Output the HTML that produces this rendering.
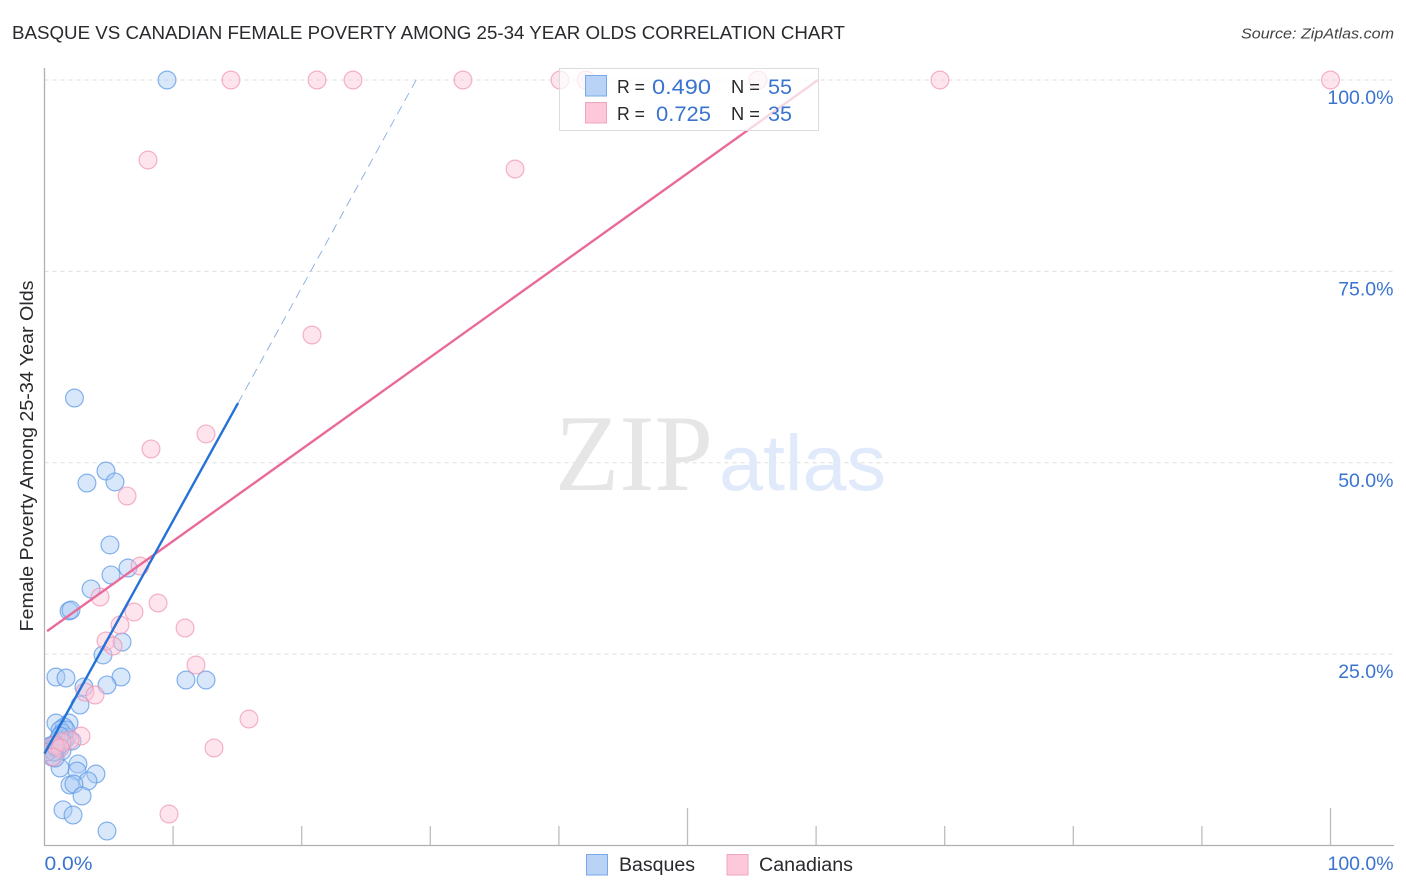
<!DOCTYPE html>
<html lang="en">
<head>
<meta charset="utf-8">
<title>Basque vs Canadian Female Poverty Among 25-34 Year Olds Correlation Chart</title>
<style>
html,body{margin:0;padding:0;background:#fff;width:1406px;height:892px;overflow:hidden}
svg{display:block;font-family:"Liberation Sans",sans-serif}
</style>
</head>
<body>
<svg id="chart" width="1406" height="892" viewBox="0 0 1406 892" xmlns="http://www.w3.org/2000/svg">
  <defs>
    <clipPath id="plot-clip"><rect x="45" y="60" width="1349" height="785"/></clipPath>
  </defs>
  <text x="12" y="39" font-size="18.5" fill="#2a2a2e" textLength="833" lengthAdjust="spacingAndGlyphs">BASQUE VS CANADIAN FEMALE POVERTY AMONG 25-34 YEAR OLDS CORRELATION CHART</text>
  <text x="1394" y="38.5" font-size="15" font-style="italic" fill="#444" text-anchor="end" textLength="153" lengthAdjust="spacingAndGlyphs">Source: ZipAtlas.com</text>
  <g id="grid"></g>
  <g>
    <text x="555" y="490" font-family="'Liberation Serif',serif" font-size="109" fill="#e6e6e6" textLength="158" lengthAdjust="spacingAndGlyphs">ZIP</text>
    <text x="719" y="490" font-size="79" fill="#e1eafa" textLength="167" lengthAdjust="spacingAndGlyphs">atlas</text>
  </g>
  <g id="axes"></g>
  <g clip-path="url(#plot-clip)">
    <g id="points-blue"></g>
    <g id="points-pink"></g>
  </g>
  <g id="trends"></g>
  <g id="ylabels"></g>
  <g id="xlabels"></g>
  <text transform="translate(33,456) rotate(-90)" font-size="18.5" fill="#2a2a2e" text-anchor="middle" textLength="351" lengthAdjust="spacingAndGlyphs">Female Poverty Among 25-34 Year Olds</text>

  <g>
    <rect x="559.5" y="68.5" width="259" height="62" fill="#fff" fill-opacity="0.72" stroke="#dcdcdc" stroke-width="1"/>
    <rect x="585.5" y="75.5" width="21" height="20.5" fill="#b9d3f7" stroke="#79a9ea" stroke-width="1"/>
    <rect x="585.5" y="102.5" width="21" height="20.5" fill="#fdc8da" stroke="#f0a3bf" stroke-width="1"/>
    <text x="617" y="93" font-size="18.5" fill="#2a2a2e" textLength="28" lengthAdjust="spacingAndGlyphs">R =</text>
    <text x="652" y="94" font-size="21.5" fill="#3a74d0" textLength="59" lengthAdjust="spacingAndGlyphs">0.490</text>
    <text x="731" y="93" font-size="18.5" fill="#2a2a2e" textLength="29" lengthAdjust="spacingAndGlyphs">N =</text>
    <text x="768" y="94" font-size="21.5" fill="#3a74d0" textLength="24" lengthAdjust="spacingAndGlyphs">55</text>
    <text x="617" y="120" font-size="18.5" fill="#2a2a2e" textLength="28" lengthAdjust="spacingAndGlyphs">R =</text>
    <text x="656" y="121" font-size="21.5" fill="#3a74d0" textLength="55" lengthAdjust="spacingAndGlyphs">0.725</text>
    <text x="731" y="120" font-size="18.5" fill="#2a2a2e" textLength="29" lengthAdjust="spacingAndGlyphs">N =</text>
    <text x="768" y="121" font-size="21.5" fill="#3a74d0" textLength="24" lengthAdjust="spacingAndGlyphs">35</text>
  </g>

  <g>
    <g>
      <rect x="586.5" y="854.5" width="21" height="20.5" fill="#b9d3f7" stroke="#79a9ea" stroke-width="1"/>
      <text x="619" y="871" font-size="19" fill="#2a2a2e" textLength="76" lengthAdjust="spacingAndGlyphs">Basques</text>
    </g>
    <g>
      <rect x="727" y="854.5" width="21" height="20.5" fill="#fdc8da" stroke="#f0a3bf" stroke-width="1"/>
      <text x="759" y="871" font-size="19" fill="#2a2a2e" textLength="94" lengthAdjust="spacingAndGlyphs">Canadians</text>
    </g>
  </g>
</svg>
<script>
const basqueX = [9.53,2.33,4.78,3.30,5.48,5.09,6.49,5.17,3.62,1.91,2.06,6.03,4.55,0.89,1.67,5.95,11.0,12.56,4.86,3.07,2.76,2.60,2.53,4.00,3.38,1.98,2.29,2.92,1.44,2.22,4.86,1.21,0.89,1.91,1.52,1.21,1.36,1.75,1.59,0.66,0.43,0.97,1.36,0.58,0.82,1.21,1.05,2.14,0.27,0.43,0.74,1.67,1.21,0.19,0.89];
const basqueY = [100,58.46,48.92,47.35,47.49,39.26,36.25,35.34,33.51,30.63,30.76,26.58,24.89,22.01,21.88,22.01,21.62,21.62,20.97,20.71,18.35,10.65,9.73,9.34,8.43,7.90,8.03,6.47,4.66,3.98,1.89,10.12,16.0,16.0,15.48,15.09,14.70,14.17,13.78,13.13,12.48,12.48,12.34,11.56,11.43,13.13,13.78,13.65,12.74,13.0,12.21,15.09,14.30,12.21,12.87];
const canadianX = [14.50,21.19,23.99,32.54,40.09,42.11,55.48,69.63,100,8.05,36.59,20.80,12.56,8.28,6.42,7.43,4.32,8.83,6.96,5.87,4.78,5.33,10.93,11.78,3.15,3.93,15.90,13.18,9.68,2.84,1.98,1.36,0.82,1.21,0.66];
const canadianY = [100,100,100,100,100,100,100,100,100,89.55,88.37,66.69,53.76,51.80,45.66,36.51,32.46,31.68,30.50,28.80,26.71,26.06,28.41,23.58,20.05,19.66,16.52,12.74,4.11,14.30,13.78,13.52,13.13,12.74,11.56];
const basqueTrendX = [0,15.05];
const basqueTrendY = [12,57.8];
const basqueDashX = [15.05,28.9];
const basqueDashY = [57.8,100];
const canadianTrendX = [0.2,60.15];
const canadianTrendY = [28,100];
const yTicks = [25,50,75,100];
const yTickLabels = ['25.0%','50.0%','75.0%','100.0%'];
const xTicks = [10,20,30,40,50,60,70,80,90,100];
const xMajorTicks = [50,100];
const xEndTicks = [0,100];
const xEndLabels = ['0.0%','100.0%'];

const NS = 'http://www.w3.org/2000/svg';
function xs(v){ return 44.5 + v * 12.86; }
function ys(v){ return 845.5 - v * 7.655; }
function mk(tag, attrs, parent){
  const el = document.createElementNS(NS, tag);
  for (const k in attrs) el.setAttribute(k, attrs[k]);
  parent.appendChild(el);
  return el;
}
const grid = document.getElementById('grid');
const axes = document.getElementById('axes');
const ptsB = document.getElementById('points-blue');
const ptsP = document.getElementById('points-pink');
const trends = document.getElementById('trends');
const yl = document.getElementById('ylabels');
const xl = document.getElementById('xlabels');

yTicks.forEach(function(t, i){
  const g = mk('line', {x1:44.5, x2:1394, y1:ys(t), y2:ys(t), stroke:'#dedede', 'stroke-width':1, 'stroke-dasharray':'4 4'}, grid);
  
  
  const l = mk('text', {x:1393.5, y:ys(t)+24, 'font-size':19.5, fill:'#3a74d0', 'text-anchor':'end'}, yl);
  l.textContent = yTickLabels[i];
  
  
});

const yAxis = mk('line', {x1:44.5, x2:44.5, y1:68, y2:846, stroke:'#b0b0b0', 'stroke-width':1.3}, axes);


const xAxis = mk('line', {x1:44, x2:1394, y1:845.5, y2:845.5, stroke:'#b0b0b0', 'stroke-width':1.3}, axes);



xTicks.forEach(function(t){
  const major = xMajorTicks.indexOf(t) >= 0;
  const k = mk('line', {x1:xs(t), x2:xs(t), y1:major ? 808 : 826, y2:845, stroke:'#bdbdbd', 'stroke-width':1.3}, axes);
  
  
});

xEndTicks.forEach(function(t, i){
  const l = mk('text', {x:i === 0 ? xs(t) : 1393.5, y:870, 'font-size':19.5, fill:'#3a74d0', 'text-anchor':i === 0 ? 'start' : 'end', textLength:i === 0 ? 48 : 66, lengthAdjust:'spacingAndGlyphs'}, xl);
  l.textContent = xEndLabels[i];
  
  
});

basqueX.forEach(function(v, i){
  const c = mk('circle', {cx:xs(v), cy:ys(basqueY[i]), r:8.9, fill:'#a9c9f4', 'fill-opacity':0.45, stroke:'#5f9ae6', 'stroke-opacity':0.75, 'stroke-width':1.2}, ptsB);
  
  
});
canadianX.forEach(function(v, i){
  const c = mk('circle', {cx:xs(v), cy:ys(canadianY[i]), r:8.9, fill:'#fcc0d4', 'fill-opacity':0.42, stroke:'#ee93b3', 'stroke-opacity':0.7, 'stroke-width':1.2}, ptsP);
  
  
});

const pinkLine = mk('line', {x1:xs(canadianTrendX[0]), y1:ys(canadianTrendY[0]), x2:xs(canadianTrendX[1]), y2:ys(canadianTrendY[1]), stroke:'#e96b9b', 'stroke-width':2.4}, trends);


const blueLine = mk('line', {x1:xs(basqueTrendX[0]), y1:ys(basqueTrendY[0]), x2:xs(basqueTrendX[1]), y2:ys(basqueTrendY[1]), stroke:'#2472d6', 'stroke-width':2.4}, trends);


const blueDash = mk('line', {x1:xs(basqueDashX[0]), y1:ys(basqueDashY[0]), x2:xs(basqueDashX[1]), y2:ys(basqueDashY[1]), stroke:'#85addf', 'stroke-width':0.9, 'stroke-dasharray':'9 6'}, trends);


</script>
</body>
</html>
